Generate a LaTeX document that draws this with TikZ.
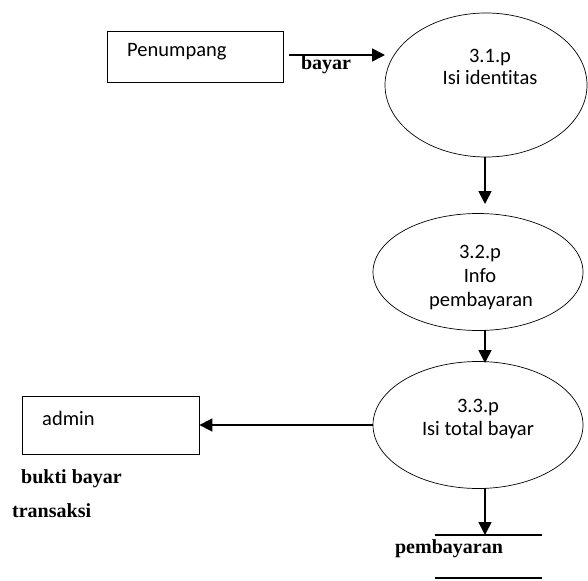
\documentclass[tikz,border=0pt]{standalone}
\usepackage{fontspec}
\setmainfont{Liberation Serif}
\newfontfamily\calib[Ligatures=NoCommon]{Carlito}
\usetikzlibrary{shapes.geometric,arrows.meta}
\begin{document}
\begin{tikzpicture}[x=1pt,y=-1pt,
  proc/.style={draw,line width=0.7pt,ellipse,inner sep=0pt},
  ctext/.style={font=\calib\fontsize{20.5}{24}\selectfont,inner sep=0pt,anchor=base},
  btext/.style={font=\bfseries\fontsize{20}{24}\selectfont,inner sep=0pt,anchor=base},
  flow/.style={line width=1.6pt,-{Triangle[length=13pt,width=13pt]}},
  store/.style={line width=1.8pt}]
\useasboundingbox (0,0) rectangle (588,580);
% entities
\node[draw,line width=0.8pt,inner sep=0pt,minimum width=176pt,minimum height=51pt] (pen) at (195,56.5) {};
\node[ctext,anchor=base west] (pent) at (127,57) {Penumpang};
\node[draw,line width=0.8pt,inner sep=0pt,minimum width=177pt,minimum height=58pt] (adm) at (110.5,425) {};
\node[ctext,anchor=base west] (admt) at (42,425) {admin};
% processes
\node[proc,minimum width=202pt,minimum height=144pt] (p1) at (486,85) {};
\node[ctext] (p1a) at (490,63) {3.1.p};
\node[ctext] (p1b) at (490,85) {Isi identitas};
\node[proc,minimum width=210pt,minimum height=117pt] (p2) at (478,272) {};
\node[ctext] (p2a) at (480,258) {3.2.p};
\node[ctext] (p2b) at (480,282) {Info};
\node[ctext] (p2c) at (481,306) {pembayaran};
\node[proc,minimum width=210pt,minimum height=127pt] (p3) at (478,425) {};
\node[ctext] (p3a) at (478,412) {3.3.p};
\node[ctext] (p3b) at (478,435) {Isi total bayar};
% data store
\coordinate (s1) at (435,535);
\coordinate (s2) at (542,535);
\coordinate (s3) at (435,578);
\coordinate (s4) at (542,578);
\draw[store] (s1) -- (s2);
\draw[store] (s3) -- (s4);
\node[btext] (st) at (449,553) {pembayaran};
% flows
\coordinate (b0) at (289,55);
\coordinate (b1) at (385,55);
\draw[flow] (b0) -- (b1);
\node[btext] (bl) at (326,70) {bayar};
\coordinate (a0) at (485,157);
\coordinate (a1) at (485,204);
\draw[flow] (a0) -- (a1);
\coordinate (c0) at (485,330);
\coordinate (c1) at (485,363);
\draw[flow] (c0) -- (c1);
\draw[flow] (p3.west) -- (adm.east);
\coordinate (d0) at (485,488);
\coordinate (d1) at (485,535);
\draw[flow] (d0) -- (d1);
\node[btext,anchor=base west] (bk) at (21,483) {bukti bayar};
\node[btext,anchor=base west] (tr) at (12,517) {transaksi};
\end{tikzpicture}
\end{document}
